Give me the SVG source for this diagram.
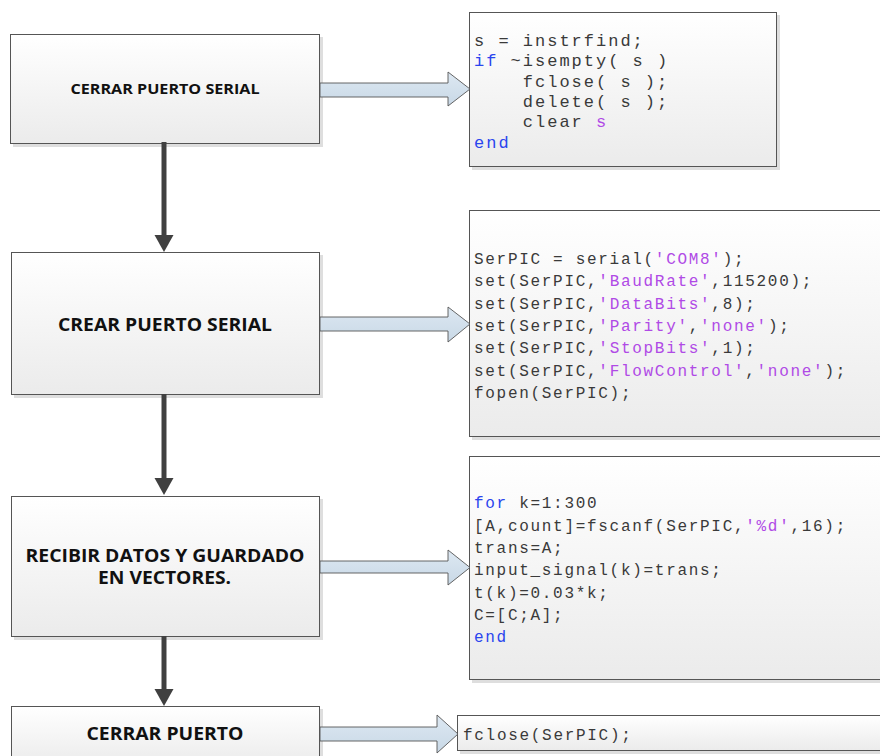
<svg xmlns="http://www.w3.org/2000/svg" width="880" height="756" viewBox="0 0 880 756">
<defs>
<linearGradient id="gBox" x1="0" y1="0" x2="0" y2="1">
<stop offset="0" stop-color="#ffffff"/>
<stop offset="1" stop-color="#ebebeb"/>
</linearGradient>
<linearGradient id="gArr" x1="0" y1="0" x2="0" y2="1">
<stop offset="0" stop-color="#dde8f2"/>
<stop offset="1" stop-color="#c8d8e6"/>
</linearGradient>
<style>
.box{fill:url(#gBox);stroke:#555;stroke-width:1}
.sh{fill:#c8c8c8;opacity:0.6}
.lbl{font-family:"Open Sans","Liberation Sans",sans-serif;font-weight:bold;fill:#111;text-anchor:middle}
.code{font-family:"Liberation Mono","Courier New",monospace;fill:#3a3a3a}
.c1{font-size:17px;letter-spacing:2px}
.c2{font-size:16px;letter-spacing:1.7px}
.kw{fill:#2a45ee}
.str{fill:#b04ae6}
.blk{fill:url(#gArr);stroke:#555;stroke-width:0.9}
.vln{stroke:#404040;stroke-width:5}
.vhd{fill:#404040}
</style>
</defs>

<g id="node-cerrar-puerto-serial">
<rect class="sh" x="13" y="37" width="310" height="110"/>
<rect class="box" x="10.5" y="34.5" width="309" height="109"/>
<text class="lbl" x="165" y="94" font-size="14" textLength="189" lengthAdjust="spacingAndGlyphs">CERRAR PUERTO SERIAL</text>
</g>

<g id="code-1">
<rect class="sh" x="472" y="15" width="308" height="155"/>
<rect class="box" x="469.5" y="12.5" width="307" height="154"/>
<text class="code c1" x="474" y="46">s = instrfind;</text>
<text class="code c1" x="474" y="66.3"><tspan class="kw">if</tspan> ~isempty( s )</text>
<text class="code c1" x="522.8" y="86.6">fclose( s );</text>
<text class="code c1" x="522.8" y="107">delete( s );</text>
<text class="code c1" x="522.8" y="127.3">clear <tspan class="str">s</tspan></text>
<text class="code c1 kw" x="474" y="147.6">end</text>
</g>

<g id="node-crear-puerto-serial">
<rect class="sh" x="14" y="255" width="309" height="143"/>
<rect class="box" x="11.5" y="252.5" width="308" height="142"/>
<text class="lbl" x="165" y="331" font-size="17" textLength="214" lengthAdjust="spacingAndGlyphs">CREAR PUERTO SERIAL</text>
</g>

<g id="code-2">
<rect class="sh" x="472" y="213" width="420" height="227"/>
<rect class="box" x="469.5" y="210.5" width="420" height="226"/>
<text class="code c2" x="474" y="264">SerPIC = serial(<tspan class="str">'COM8'</tspan>);</text>
<text class="code c2" x="474" y="286.3">set(SerPIC,<tspan class="str">'BaudRate'</tspan>,115200);</text>
<text class="code c2" x="474" y="308.6">set(SerPIC,<tspan class="str">'DataBits'</tspan>,8);</text>
<text class="code c2" x="474" y="330.9">set(SerPIC,<tspan class="str">'Parity'</tspan>,<tspan class="str">'none'</tspan>);</text>
<text class="code c2" x="474" y="353.2">set(SerPIC,<tspan class="str">'StopBits'</tspan>,1);</text>
<text class="code c2" x="474" y="375.5">set(SerPIC,<tspan class="str">'FlowControl'</tspan>,<tspan class="str">'none'</tspan>);</text>
<text class="code c2" x="474" y="397.8">fopen(SerPIC);</text>
</g>

<g id="node-recibir-datos">
<rect class="sh" x="14" y="499" width="309" height="141"/>
<rect class="box" x="11.5" y="496.5" width="308" height="140"/>
<text class="lbl" x="165" y="562" font-size="17" textLength="279" lengthAdjust="spacingAndGlyphs">RECIBIR DATOS Y GUARDADO</text>
<text class="lbl" x="164.5" y="584" font-size="17" textLength="133" lengthAdjust="spacingAndGlyphs">EN VECTORES.</text>
</g>

<g id="code-3">
<rect class="sh" x="472" y="459" width="420" height="224"/>
<rect class="box" x="469.5" y="456.5" width="420" height="223"/>
<text class="code c2" x="474" y="508"><tspan class="kw">for</tspan> k=1:300</text>
<text class="code c2" x="474" y="530.5">[A,count]=fscanf(SerPIC,<tspan class="str">'%d'</tspan>,16);</text>
<text class="code c2" x="474" y="553">trans=A;</text>
<text class="code c2" x="474" y="575">input_signal(k)=trans;</text>
<text class="code c2" x="474" y="597.5">t(k)=0.03*k;</text>
<text class="code c2" x="474" y="619.5">C=[C;A];</text>
<text class="code c2 kw" x="474" y="642">end</text>
</g>

<g id="node-cerrar-puerto">
<rect class="sh" x="14" y="709" width="309" height="60"/>
<rect class="box" x="11.5" y="706.5" width="308" height="60"/>
<text class="lbl" x="165" y="740" font-size="17" textLength="157" lengthAdjust="spacingAndGlyphs">CERRAR PUERTO</text>
</g>

<g id="code-4">
<rect class="sh" x="460" y="718" width="430" height="36"/>
<rect class="box" x="457.5" y="715.5" width="430" height="35"/>
<text class="code c2" x="463" y="739.5">fclose(SerPIC);</text>
</g>

<g id="connectors">
<path class="blk" d="M320,83 H448 V72 L470,89 L448,106 V97 H320 Z"/>
<path class="blk" d="M320,317 H448 V307 L470,324 L448,342 V331 H320 Z"/>
<path class="blk" d="M320,561 H448 V550 L470,567.5 L448,585 V573 H320 Z"/>
<path class="blk" d="M320,727 H437 V715 L458,734 L437,753 V741 H320 Z"/>
<line class="vln" x1="164" y1="142" x2="164" y2="237"/>
<polygon class="vhd" points="154.5,235 173.5,235 164,252"/>
<line class="vln" x1="164" y1="394" x2="164" y2="480"/>
<polygon class="vhd" points="154.5,478 173.5,478 164,495"/>
<line class="vln" x1="164" y1="636" x2="164" y2="691"/>
<polygon class="vhd" points="154.5,689 173.5,689 164,706"/>
</g>
</svg>
